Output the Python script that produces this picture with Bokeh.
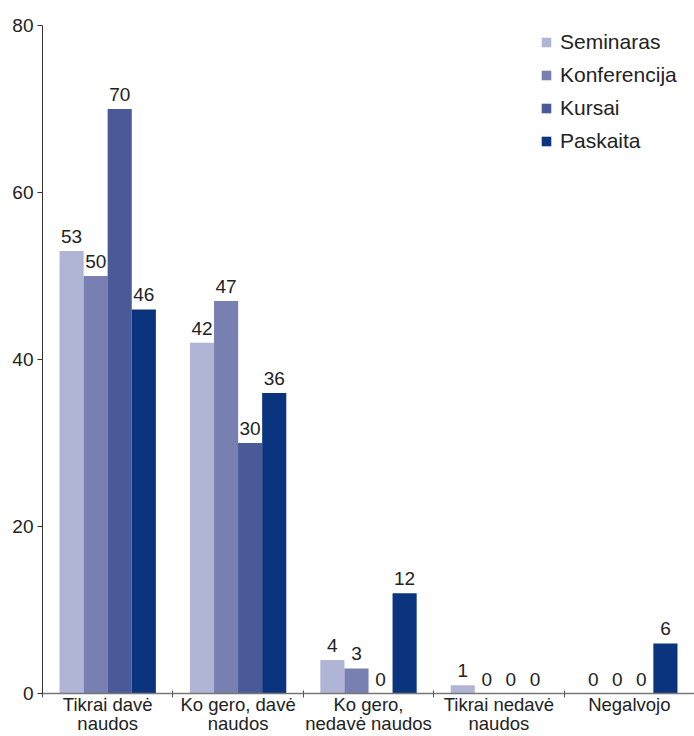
from bokeh.plotting import figure
from bokeh.models import ColumnDataSource, FixedTicker, Legend, LegendItem, LabelSet, Range1d
from bokeh.core.properties import value
from bokeh.embed import file_html
from bokeh.resources import INLINE

categories = ["Tikrai davė\nnaudos", "Ko gero, davė\nnaudos", "Ko gero,\nnedavė naudos", "Tikrai nedavė\nnaudos", "Negalvojo"]
series = ["Seminaras", "Konferencija", "Kursai", "Paskaita"]
seminaras = [53, 42, 4, 1, 0]
konferencija = [50, 47, 3, 0, 0]
kursai = [70, 30, 0, 0, 0]
paskaita = [46, 36, 12, 0, 6]
colors = ["#b0b5d6", "#7880b1", "#4a5a98", "#0b347f"]
y_ticks = [0, 20, 40, 60, 80]

values = [seminaras, konferencija, kursai, paskaita]
offsets = [-0.277, -0.092, 0.092, 0.277]
bar_w = 0.185

FONT = "Liberation Sans"

p = figure(width=694, height=736, output_backend="svg", toolbar_location=None,
           x_range=Range1d(0, len(categories)), y_range=Range1d(0, 80),
           min_border_left=42, min_border_right=0, min_border_top=25, min_border_bottom=40)
p.grid.visible = False
p.outline_line_color = None
p.background_fill_color = "white"

items = []
for s, vals, col, off in zip(series, values, colors, offsets):
    xs = [i + 0.5 + off for i in range(len(categories))]
    src = ColumnDataSource(dict(x=xs, top=vals, lab=[str(v) for v in vals]))
    r = p.vbar(x="x", top="top", width=bar_w, bottom=0, source=src,
               fill_color=col, line_color=None)
    items.append(LegendItem(label=s, renderers=[r]))
    lbl = LabelSet(x="x", y="top", text="lab", source=src, text_align="center",
                   text_baseline="bottom", y_offset=8, text_font=value(FONT),
                   text_font_size="19px", text_color="#222222")
    p.add_layout(lbl)

# axes
p.xaxis.ticker = FixedTicker(ticks=[i + 0.5 for i in range(len(categories))],
                             minor_ticks=list(range(len(categories) + 1)))
p.xaxis.major_label_overrides = {i + 0.5: c for i, c in enumerate(categories)}
p.xaxis.major_tick_line_color = None
p.xaxis.major_tick_out = 0
p.xaxis.major_tick_in = 0
p.xaxis.minor_tick_line_color = "#555555"
p.xaxis.minor_tick_out = 4
p.xaxis.minor_tick_in = 3
p.xaxis.axis_line_color = "#777777"
p.xaxis.axis_line_width = 1.5
p.xaxis.major_label_text_font = FONT
p.xaxis.major_label_text_font_size = "18.5px"
p.xaxis.major_label_text_color = "#222222"
p.xaxis.major_label_text_line_height = 0.92
p.xaxis.major_label_standoff = -4

p.yaxis.ticker = FixedTicker(ticks=y_ticks)
p.yaxis.minor_tick_line_color = None
p.yaxis.major_tick_out = 5
p.yaxis.major_tick_in = 0
p.yaxis.axis_line_color = "#333333"
p.yaxis.major_tick_line_color = "#333333"
p.yaxis.major_label_text_font = FONT
p.yaxis.major_label_text_font_size = "19px"
p.yaxis.major_label_text_color = "#222222"
p.yaxis.major_label_standoff = 4

legend = Legend(items=items, location=(498, 540), label_text_font=FONT,
                label_text_font_size="21px", label_text_color="#222222",
                glyph_width=12, glyph_height=12, label_standoff=8,
                label_height=24, spacing=9, padding=0, margin=0,
                border_line_color=None, background_fill_alpha=0)
p.add_layout(legend)

open("out.html", "w").write(file_html(p, INLINE))
